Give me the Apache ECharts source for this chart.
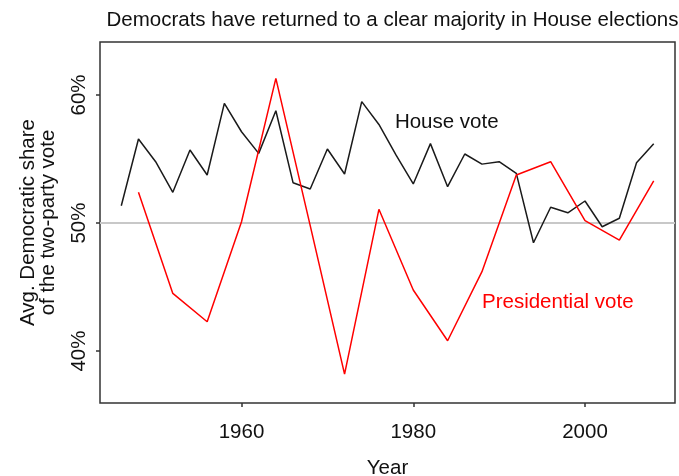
<!DOCTYPE html>
<html>
<head>
<meta charset="utf-8">
<script src="https://cdn.jsdelivr.net/npm/echarts@6/dist/echarts.min.js"></script>
<style>
html,body{margin:0;padding:0;background:#fff;}
#chart{width:679px;height:476px;}
</style>
</head>
<body>
<div id="chart"></div>
<script>
const chartTitle = 'Democrats have returned to a clear majority in House elections';
const xAxisTitle = 'Year';
const yAxisTitle = 'Avg. Democratic share\nof the two-party vote';
const xTickValues = [1960, 1980, 2000];
const yTickValues = [40, 50, 60];

const houseYears = [1946,1948,1950,1952,1954,1956,1958,1960,1962,1964,1966,1968,1970,1972,1974,1976,1978,1980,1982,1984,1986,1988,1990,1992,1994,1996,1998,2000,2002,2004,2006,2008];
const houseVote  = [51.35,56.56,54.79,52.4,55.7,53.75,59.35,57.13,55.44,58.77,53.15,52.66,55.78,53.83,59.48,57.7,55.3,53.05,56.2,52.84,55.39,54.6,54.79,53.88,48.46,51.23,50.8,51.72,49.71,50.37,54.71,56.2];

const presYears = [1948,1952,1956,1960,1964,1968,1972,1976,1980,1984,1988,1992,1996,2000,2004,2008];
const presVote  = [52.4,44.5,42.29,50.1,61.3,49.8,38.2,51.07,44.77,40.8,46.2,53.75,54.79,50.18,48.67,53.3];

const houseLabel = 'House vote';
const presLabel = 'Presidential vote';

const FONT = 'Liberation Sans, Arial, sans-serif';
const TXT = '#111';
const FS = 20.5;

const chart = echarts.init(document.getElementById('chart'), null, {renderer: 'canvas'});
chart.setOption({
  animation: false,
  backgroundColor: '#fff',
  textStyle: {fontFamily: FONT},
  title: {
    text: chartTitle,
    left: 387.5,
    textAlign: 'center',
    top: 5,
    textStyle: {fontFamily: FONT, fontSize: FS, fontWeight: 'normal', color: TXT}
  },
  grid: {
    left: 100, right: 4, top: 42, bottom: 73,
    outerBoundsMode: 'none',
    containLabel: false,
    show: true, borderColor: '#333', borderWidth: 1.5, backgroundColor: 'transparent'
  },
  xAxis: {
    type: 'value',
    min: 1943.52, max: 2010.48,
    name: xAxisTitle,
    nameLocation: 'middle',
    nameGap: 55,
    nameTextStyle: {fontFamily: FONT, fontSize: FS, color: TXT},
    axisLine: {show: false},
    splitLine: {show: false},
    axisTick: {show: true, length: 4, customValues: xTickValues, lineStyle: {color: '#333', width: 1.5}},
    axisLabel: {customValues: xTickValues, margin: 19, fontFamily: FONT, fontSize: FS, color: TXT,
      formatter: v => String(v)}
  },
  yAxis: {
    type: 'value',
    min: 35.94, max: 64.14,
    name: yAxisTitle,
    nameLocation: 'middle',
    nameRotate: 90,
    nameGap: 42,
    nameTextStyle: {fontFamily: FONT, fontSize: FS, color: TXT, lineHeight: 20, align: 'center'},
    axisLine: {show: false},
    splitLine: {show: false},
    axisTick: {show: true, length: 4, customValues: yTickValues, lineStyle: {color: '#333', width: 1.5}},
    axisLabel: {customValues: yTickValues, rotate: 90, margin: 10, fontFamily: FONT, fontSize: FS, color: TXT,
      formatter: v => v + '%'}
  },
  series: [
    {
      type: 'line',
      name: houseLabel,
      data: houseYears.map((y, i) => [y, houseVote[i]]),
      symbol: 'none',
      lineStyle: {color: '#1a1a1a', width: 1.5},
      z: 3,
      markLine: {
        silent: true,
        symbol: 'none',
        label: {show: false},
        lineStyle: {color: '#c8c8c8', width: 2, type: 'solid'},
        data: [{yAxis: 50}],
        z: 1
      },
      markPoint: {
        symbol: 'circle', symbolSize: 0,
        data: [{coord: [1983.9, 57.9], value: houseLabel}],
        label: {show: true, position: 'inside', formatter: houseLabel, fontFamily: FONT, fontSize: FS, color: TXT}
      }
    },
    {
      type: 'line',
      name: presLabel,
      data: presYears.map((y, i) => [y, presVote[i]]),
      symbol: 'none',
      lineStyle: {color: '#ff0000', width: 1.5},
      z: 4,
      markPoint: {
        symbol: 'circle', symbolSize: 0,
        data: [{coord: [1996.83, 43.77], value: presLabel}],
        label: {show: true, position: 'inside', formatter: presLabel, fontFamily: FONT, fontSize: FS, color: '#ff0000'}
      }
    }
  ]
});
</script>
</body>
</html>
